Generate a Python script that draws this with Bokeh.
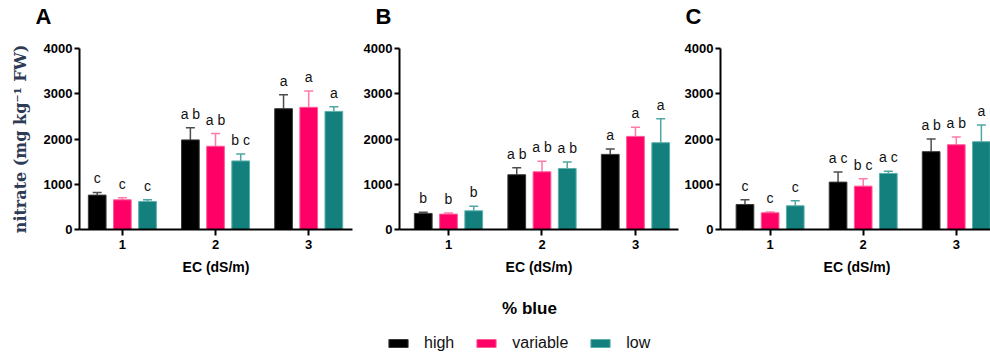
from bokeh.plotting import figure
from bokeh.models import (ColumnDataSource, Range1d, FixedTicker, Whisker, TeeHead,
                          Legend, LegendItem)
from bokeh.layouts import row, column
from bokeh.core.properties import value
from bokeh.embed import file_html
from bokeh.resources import INLINE

# ---------------- data ----------------
ec = [1, 2, 3]
groups = ["high", "variable", "low"]
panel_letters = ["A", "B", "C"]

a_high = [760, 1980, 2670]
a_high_err = [60, 270, 310]
a_var = [656, 1840, 2700]
a_var_err = [45, 280, 360]
a_low = [620, 1515, 2610]
a_low_err = [38, 155, 105]
a_letters_high = ["c", "a b", "a"]
a_letters_var = ["c", "a b", "a"]
a_letters_low = ["c", "b c", "a"]

b_high = [355, 1210, 1660]
b_high_err = [28, 155, 118]
b_var = [340, 1275, 2058]
b_var_err = [22, 235, 200]
b_low = [413, 1349, 1918]
b_low_err = [103, 140, 530]
b_letters_high = ["b", "a b", "a"]
b_letters_var = ["b", "a b", "a"]
b_letters_low = ["b", "a b", "a"]

c_high = [553, 1047, 1720]
c_high_err = [104, 221, 280]
c_var = [369, 958, 1873]
c_var_err = [16, 163, 170]
c_low = [524, 1239, 1940]
c_low_err = [111, 51, 368]
c_letters_high = ["c", "a c", "a b"]
c_letters_var = ["c", "b c", "a b"]
c_letters_low = ["c", "a c", "a"]

y_ticks = [0, 1000, 2000, 3000, 4000]
x_label = "EC (dS/m)"
y_label = "nitrate (mg kg\u207b\u00b9 FW)"
legend_title = "% blue"

# ---------------- style ----------------
fill_colors = {"high": "#000000", "variable": "#FF0066", "low": "#13807D"}
edge_colors = {"high": "#3a3a3a", "variable": "#FF5C98", "low": "#5BAFAB"}
err_colors = {"high": "#4d4d4d", "variable": "#FF7AAB", "low": "#4FA6A2"}
offsets = {"high": -0.27, "variable": 0.0, "low": 0.27}
BAR_W = 0.19
FONT = "Liberation Sans"
STRIP_H = 32


def make_panel(series, width, height, frame_w, frame_h, left, right, top,
               xr, with_ylabel):
    p = figure(width=width, height=height, frame_width=frame_w, frame_height=frame_h,
               x_range=Range1d(*xr), y_range=Range1d(0, 4000),
               toolbar_location=None, output_backend="svg",
               min_border_left=left, min_border_right=right, min_border_top=top,
               min_border_bottom=height - top - frame_h)
    p.grid.visible = False
    p.outline_line_color = None
    p.background_fill_color = "white"
    p.border_fill_color = "white"

    for name, (vals, errs, letters) in series.items():
        xs = [e + offsets[name] for e in ec]
        tops = [v + e for v, e in zip(vals, errs)]
        src = ColumnDataSource(dict(x=xs, top=vals, up=tops, lab=letters))
        p.vbar(x="x", top="top", width=BAR_W, source=src,
               fill_color=fill_colors[name], line_color=edge_colors[name], line_width=1)
        p.add_layout(Whisker(source=src, base="x", lower="top", upper="up",
                             line_color=err_colors[name], line_width=1.5,
                             lower_head=None,
                             upper_head=TeeHead(size=9, line_color=err_colors[name],
                                                line_width=1.5)))
        p.text(x="x", y="up", text="lab", source=src, text_align="center",
               text_baseline="bottom", y_offset=-6, text_font=value(FONT),
               text_font_size="14px", text_color="#111111")

    for ax in (p.xaxis[0], p.yaxis[0]):
        ax.axis_line_width = 2
        ax.axis_line_color = "black"
        ax.major_tick_line_width = 2
        ax.major_tick_line_color = "black"
        ax.major_tick_in = 0
        ax.minor_tick_line_color = None
        ax.major_label_text_font = FONT
        ax.major_label_text_font_style = "bold"
        ax.major_label_text_font_size = "13px"
        ax.major_label_text_color = "black"

    p.yaxis.ticker = FixedTicker(ticks=y_ticks)
    p.yaxis.major_tick_out = 5
    p.yaxis.major_label_standoff = 2
    p.xaxis.ticker = FixedTicker(ticks=ec)
    p.xaxis.major_tick_out = 6
    p.xaxis.major_label_standoff = 4

    p.xaxis.axis_label = x_label
    p.xaxis.axis_label_text_font = FONT
    p.xaxis.axis_label_text_font_style = "bold"
    p.xaxis.axis_label_text_font_size = "14px"
    p.xaxis.axis_label_text_color = "black"
    p.xaxis.axis_label_standoff = 7

    if with_ylabel:
        p.yaxis.axis_label = y_label
        p.yaxis.axis_label_text_font = "DejaVu Serif"
        p.yaxis.axis_label_text_font_style = "bold"
        p.yaxis.axis_label_text_font_size = "16px"
        p.yaxis.axis_label_text_color = "#2f3a55"
        p.yaxis.axis_label_standoff = 11
    return p


PH = 280 - STRIP_H
pA = make_panel({"high": (a_high, a_high_err, a_letters_high),
                 "variable": (a_var, a_var_err, a_letters_var),
                 "low": (a_low, a_low_err, a_letters_low)},
                360, PH, 273, 181, 79, 8, 46 - STRIP_H, (0.54, 3.47), True)
pB = make_panel({"high": (b_high, b_high_err, b_letters_high),
                 "variable": (b_var, b_var_err, b_letters_var),
                 "low": (b_low, b_low_err, b_letters_low)},
                320, PH, 279, 181, 38, 3, 48 - STRIP_H, (0.476, 3.46), False)
pC = make_panel({"high": (c_high, c_high_err, c_letters_high),
                 "variable": (c_var, c_var_err, c_letters_var),
                 "low": (c_low, c_low_err, c_letters_low)},
                310, PH, 273, 181, 37, 0, 48 - STRIP_H, (0.467, 3.40), False)

# ---------------- panel-letter strip (pixel coordinates, y down) ----------------
pT = figure(width=990, height=STRIP_H, x_range=Range1d(0, 990),
            y_range=Range1d(STRIP_H, 0), toolbar_location=None, output_backend="svg",
            x_axis_location=None, y_axis_location=None, min_border=0)
pT.grid.visible = False
pT.outline_line_color = None
pT.text(x=[35, 375, 685], y=[16, 16, 16], text=panel_letters, text_align="left",
        text_baseline="middle", text_font=value(FONT), text_font_style="bold",
        text_font_size="22px", text_color="black")

# ---------------- legend strip ----------------
pL = figure(width=990, height=78, x_range=Range1d(0, 990), y_range=Range1d(0, 78),
            toolbar_location=None, output_backend="svg",
            x_axis_location=None, y_axis_location=None, min_border=0)
pL.grid.visible = False
pL.outline_line_color = None
pL.text(x=[529], y=[50], text=[legend_title], text_align="center",
        text_baseline="middle", text_font=value(FONT), text_font_style="bold",
        text_font_size="17px", text_color="black")
items = []
for name in groups:
    # hidden sample glyph (outside the visible range) used only for the legend swatch
    r = pL.rect(x=[-500], y=[-500], width=1, height=1, fill_color=fill_colors[name],
                line_color=edge_colors[name])
    items.append(LegendItem(label=name, renderers=[r]))
leg = Legend(items=items, orientation="horizontal", location=(386, 6),
             glyph_width=24, glyph_height=10, label_standoff=14, spacing=20,
             padding=0, margin=0, border_line_color=None, background_fill_alpha=0,
             label_text_font=FONT, label_text_font_size="16px", label_text_color="#111111")
pL.add_layout(leg)

layout = column(pT, row(pA, pB, pC), pL)
open("out.html", "w").write(file_html(layout, INLINE))
